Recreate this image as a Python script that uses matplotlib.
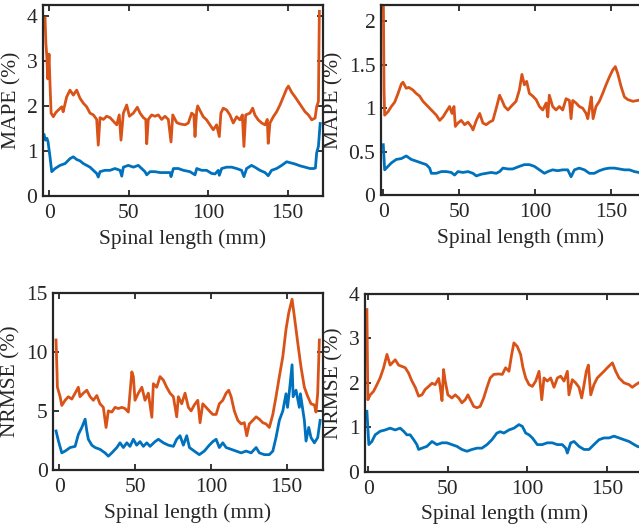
import matplotlib
matplotlib.use('Agg')
import matplotlib.pyplot as plt

matplotlib.rcParams['font.family'] = ['Liberation Serif', 'DejaVu Serif']
matplotlib.rcParams['font.size'] = 15.5

BLUE = '#0072BD'
ORANGE = '#D95319'
INK = '#262626'

# top left: MAPE
tl_x_orange = [-2.7, -2.2, -1.6, -1.0, -0.2, 0.4, 1.1, 2.5, 4.0, 5.7, 7.8, 8.7, 10.9, 13.0, 15.1, 17.2, 19.3,
               21.4, 23.5, 25.6, 27.7, 29.8, 30.8, 31.9, 34.0, 36.1, 38.2, 40.3, 42.4, 44.0, 45.1, 46.6, 48.7,
               50.4, 52.9, 55.4, 57.1, 59.2, 60.7, 61.3, 62.3, 64.4, 66.5, 68.6, 70.7, 72.8, 74.9, 76.6, 77.7,
               80.2, 82.3, 85.4, 87.5, 89.6, 91.0, 91.7, 92.8, 93.4, 94.8, 96.9, 99.0, 101.1, 103.2, 105.3,
               107.0, 108.0, 109.5, 111.6, 113.7, 115.8, 117.9, 120.0, 121.5, 122.5, 123.6, 126.3, 128.0, 129.4,
               131.5, 133.7, 135.8, 137.2, 137.8, 138.9, 141.0, 143.1, 145.2, 147.3, 149.4, 150.5, 152.6, 154.7,
               156.8, 158.9, 161.0, 163.1, 165.2, 167.3, 168.3, 169.4, 170.0]
tl_orange = [3.95, 3.4, 3.1, 2.6, 3.15, 2.5, 1.84, 1.76, 1.85, 1.91, 1.98, 1.87, 2.2, 2.35, 2.24, 2.35, 2.17,
             2.06, 1.98, 1.84, 1.8, 1.7, 1.13, 1.74, 1.7, 1.77, 1.74, 1.66, 1.58, 1.8, 1.24, 1.84, 2.02,
             1.77, 1.84, 1.97, 1.84, 1.74, 1.7, 1.16, 1.7, 1.8, 1.77, 1.8, 1.7, 1.77, 1.7, 1.2, 1.8,
             1.63, 1.6, 1.58, 1.62, 1.84, 1.8, 1.32, 1.9, 2.0, 1.9, 1.76, 1.69, 1.58, 1.47, 1.58,
             1.32, 1.84, 1.95, 1.91, 1.8, 1.62, 1.76, 1.69, 1.8, 1.1, 1.8, 1.84, 1.95, 1.8,
             1.69, 1.62, 1.58, 1.7, 1.17, 1.62, 1.76, 1.87, 2.02, 2.2, 2.38, 2.44, 2.3, 2.2,
             2.09, 1.98, 1.87, 1.8, 1.69, 1.73, 1.98, 2.1, 4.1]
tl_x_blue = [-3.3, -2.5, -1.5, -0.8, 0.4, 1.5, 3.6, 6.7, 9.9, 13.0, 15.1, 17.2, 19.3, 21.4, 23.5, 25.6, 27.7,
             29.8, 30.8, 31.9, 35.0, 38.2, 41.3, 44.5, 45.6, 46.6, 49.7, 52.9, 56.0, 58.1, 60.2, 61.3, 63.4,
             66.5, 69.7, 72.8, 76.0, 76.6, 78.1, 81.2, 84.4, 88.5, 91.7, 92.8, 95.9, 99.0, 102.2, 104.3,
             106.4, 107.0, 108.5, 111.6, 114.8, 117.9, 121.0, 122.5, 124.2, 127.3, 129.4, 132.6, 135.8, 137.8,
             139.9, 143.1, 146.3, 149.4, 151.5, 154.7, 157.8, 161.0, 164.1, 166.2, 167.5, 168.3, 169.4, 170.5]
tl_blue = [1.36, 1.24, 1.28, 1.2, 0.87, 0.54, 0.61, 0.68, 0.72, 0.83, 0.87, 0.81, 0.78, 0.72, 0.68, 0.64, 0.57,
           0.5, 0.42, 0.54, 0.57, 0.57, 0.61, 0.57, 0.44, 0.64, 0.68, 0.64, 0.68, 0.61, 0.54, 0.47, 0.54,
           0.54, 0.52, 0.52, 0.52, 0.43, 0.61, 0.61, 0.57, 0.54, 0.47, 0.61, 0.57, 0.57, 0.5, 0.49,
           0.57, 0.46, 0.61, 0.64, 0.64, 0.61, 0.57, 0.43, 0.61, 0.68, 0.64, 0.57, 0.52, 0.45,
           0.57, 0.61, 0.68, 0.76, 0.74, 0.71, 0.67, 0.64, 0.61, 0.61, 0.62, 0.96, 1.1, 1.61]

# top right: MAPE
tr_x_orange = [0.0, 0.5, 0.9, 3.1, 5.3, 7.5, 9.7, 11.9, 13.0, 15.1, 16.8, 19.5, 21.7, 23.9, 26.1, 28.3, 30.5,
               32.7, 34.9, 37.1, 39.3, 41.4, 43.6, 45.2, 46.5, 47.4, 49.1, 51.3, 53.5, 55.7, 57.9, 59.0, 61.2,
               63.4, 65.5, 67.7, 69.9, 72.1, 74.3, 76.5, 78.1, 79.8, 82.0, 84.0, 87.3, 89.5, 91.2, 92.8, 94.3,
               96.1, 98.3, 100.5, 102.7, 104.9, 107.1, 108.2, 109.2, 111.4, 113.6, 115.8, 118.0, 120.2, 122.4,
               123.5, 124.6, 126.8, 128.9, 131.2, 133.4, 134.5, 135.8, 136.8, 138.0, 139.9, 142.1, 144.3, 146.5,
               148.7, 150.9, 152.6, 154.2, 156.4, 158.6, 160.8, 164.1, 167.4, 170.0]
tr_orange = [2.4, 1.2, 0.92, 0.96, 1.02, 1.07, 1.17, 1.28, 1.3, 1.23, 1.24, 1.21, 1.17, 1.14, 1.08, 1.04, 1.0,
             0.96, 0.92, 0.86, 0.9, 0.96, 1.02, 0.94, 1.02, 0.79, 0.83, 0.86, 0.81, 0.84, 0.79, 0.75, 0.86,
             0.94, 0.83, 0.81, 0.84, 0.86, 1.0, 1.15, 1.09, 1.02, 0.98, 1.02, 1.08, 1.21, 1.39, 1.27, 1.31,
             1.17, 1.14, 1.1, 1.02, 0.98, 1.06, 0.9, 1.15, 1.02, 0.98, 1.02, 0.98, 1.11, 1.09,
             0.88, 1.09, 1.06, 1.02, 1.0, 0.94, 0.88, 1.02, 1.13, 0.88, 1.02, 1.08, 1.17, 1.27,
             1.36, 1.44, 1.48, 1.4, 1.25, 1.13, 1.1, 1.08, 1.09, 1.1]
tr_x_blue = [0.0, 0.9, 3.1, 5.3, 8.6, 11.9, 15.1, 18.4, 21.7, 25.0, 28.3, 30.5, 31.6, 34.9, 38.2, 41.4, 44.7,
             46.9, 49.1, 52.4, 55.7, 59.0, 61.2, 64.5, 67.7, 71.0, 74.3, 76.5, 78.7, 82.0, 85.1, 89.5, 92.8,
             96.1, 99.4, 102.7, 106.0, 108.2, 111.4, 114.7, 118.0, 121.3, 123.5, 125.7, 128.9, 132.3, 135.6,
             138.8, 142.1, 145.4, 148.7, 152.0, 155.3, 158.6, 161.9, 165.2, 168.0, 170.0]
tr_blue = [0.58, 0.29, 0.33, 0.37, 0.41, 0.42, 0.45, 0.41, 0.39, 0.37, 0.35, 0.31, 0.25, 0.25, 0.27, 0.27, 0.26,
           0.23, 0.27, 0.26, 0.27, 0.25, 0.22, 0.24, 0.25, 0.26, 0.25, 0.27, 0.31, 0.3, 0.3, 0.33, 0.35,
           0.35, 0.33, 0.29, 0.25, 0.27, 0.29, 0.28, 0.29, 0.29, 0.21, 0.29, 0.31, 0.29, 0.25,
           0.25, 0.28, 0.3, 0.31, 0.31, 0.3, 0.29, 0.29, 0.27, 0.26, 0.26]

# bottom left: NRMSE
bl_x_orange = [-2.2, -1.6, -1.3, 0.5, 1.6, 3.8, 5.9, 8.2, 10.4, 12.5, 13.6, 15.8, 18.1, 20.3, 22.4, 24.7, 26.8,
               29.0, 30.8, 32.3, 34.6, 36.7, 38.9, 41.2, 43.3, 45.5, 47.8, 48.8, 49.9, 52.1, 54.4, 56.5, 58.7,
               61.0, 62.0, 64.2, 66.4, 68.6, 70.8, 73.0, 75.2, 77.4, 78.5, 80.7, 82.9, 85.1, 86.9, 89.0, 91.3,
               92.8, 94.6, 96.8, 98.9, 101.2, 103.4, 105.5, 107.8, 110.0, 111.7, 113.3, 115.4, 117.7, 119.9,
               122.0, 123.6, 125.3, 127.6, 129.8, 131.9, 134.2, 136.3, 138.5, 140.8, 142.9, 145.1, 147.4, 149.5,
               151.3, 153.5, 155.0, 157.3, 159.4, 161.6, 163.9, 166.0, 168.2, 169.3, 170.4, 171.5]
bl_orange = [11.0, 8.5, 7.0, 6.2, 5.46, 5.9, 6.2, 6.0, 6.5, 7.0, 6.2, 6.5, 6.75, 6.2, 5.9, 6.3, 5.6,
             5.3, 3.6, 5.0, 4.9, 5.3, 5.2, 5.3, 5.2, 4.9, 8.3, 7.9, 5.9, 6.5, 7.0, 5.9, 6.5,
             4.46, 7.3, 7.0, 7.9, 7.6, 7.0, 6.5, 6.2, 4.5, 6.2, 5.6, 6.5, 5.3, 5.0, 5.5, 5.9,
             4.0, 5.6, 5.3, 5.0, 4.7, 4.7, 5.6, 5.9, 6.5, 6.75, 6.2, 5.0, 4.2, 3.9,
             4.0, 2.9, 3.9, 4.2, 4.5, 4.3, 4.0, 3.9, 3.6, 4.7, 6.2, 7.9, 9.6, 11.9,
             13.3, 14.45, 13.0, 10.7, 8.7, 7.0, 6.2, 5.6, 5.5, 4.9, 6.5, 11.0]
bl_x_blue = [-2.2, -0.6, 1.6, 3.8, 7.1, 10.4, 12.5, 14.8, 17.0, 18.1, 19.1, 21.4, 23.6, 26.8, 30.1, 32.3, 34.6,
             37.9, 40.0, 42.2, 44.5, 46.6, 48.8, 51.0, 53.2, 55.4, 57.7, 59.8, 63.1, 65.3, 68.6, 71.9, 75.2,
             77.4, 79.6, 81.8, 84.0, 85.8, 89.0, 92.3, 95.6, 98.9, 101.2, 103.4, 105.5, 107.8, 110.0, 113.3,
             116.6, 119.9, 123.2, 126.5, 129.8, 131.9, 135.2, 138.5, 140.8, 142.9, 145.1, 147.4, 149.5, 150.5,
             151.8, 153.5, 154.2, 156.1, 158.3, 159.0, 161.6, 162.7, 164.5, 166.0, 168.2, 170.4, 172.0]
bl_blue = [3.3, 2.45, 1.45, 1.6, 1.9, 2.0, 3.0, 3.6, 4.3, 3.3, 2.6, 2.1, 1.9, 1.75, 1.45, 1.17, 1.45,
           1.9, 2.3, 1.9, 2.3, 2.0, 2.6, 2.1, 2.4, 2.0, 2.3, 2.0, 2.4, 2.6, 2.3, 2.1, 2.0,
           2.6, 2.9, 2.1, 2.9, 1.9, 1.6, 1.3, 1.6, 2.1, 2.4, 2.6, 1.9, 2.3, 1.9, 1.75,
           1.6, 1.45, 1.6, 1.45, 1.9, 1.45, 1.3, 1.3, 1.6, 2.74, 4.2, 5.0, 6.45, 5.3,
           6.75, 8.9, 6.2, 6.75, 5.3, 6.45, 4.2, 2.45, 3.6, 2.74, 2.3, 2.74, 4.2]

# bottom right: NRMSE
br_x_orange = [-0.8, -0.2, 1.3, 3.4, 5.5, 7.5, 9.7, 11.8, 13.8, 17.0, 19.1, 21.2, 23.3, 25.4, 27.5, 29.6, 31.7,
               33.8, 35.8, 38.0, 40.1, 42.1, 44.3, 45.3, 46.4, 47.4, 48.4, 50.1, 52.6, 54.7, 56.9, 58.9, 61.0,
               62.7, 64.2, 66.3, 68.4, 70.4, 72.6, 74.7, 76.7, 78.9, 82.0, 84.3, 86.4, 88.5, 90.2, 91.6, 93.7,
               95.8, 97.3, 99.0, 101.1, 103.2, 105.3, 107.4, 109.1, 110.5, 112.6, 114.7, 116.8, 118.9, 121.0,
               123.1, 125.2, 126.2, 128.3, 130.4, 132.5, 134.2, 135.7, 137.1, 138.4, 139.9, 141.9, 144.0, 146.2,
               148.2, 150.3, 153.5, 155.6, 157.7, 160.8, 164.0, 166.0, 168.2, 170.0]
br_orange = [3.65, 1.62, 1.73, 1.81, 1.96, 2.11, 2.34, 2.64, 2.4, 2.52, 2.4, 2.37, 2.34, 2.22, 2.04, 1.9, 1.7,
             1.73, 1.85, 1.92, 1.99, 1.96, 2.1, 1.9, 1.6, 2.3, 2.04, 1.73, 1.66, 1.73, 1.66, 1.55, 1.62,
             1.73, 1.62, 1.47, 1.44, 1.47, 1.66, 1.9, 2.11, 2.19, 2.2, 2.19, 2.34, 2.26, 2.64, 2.9, 2.82,
             2.64, 2.34, 2.11, 1.96, 1.92, 2.04, 2.26, 1.62, 2.11, 2.04, 2.11, 1.9, 2.11, 2.15,
             2.04, 2.26, 1.73, 2.07, 2.0, 1.9, 1.66, 1.96, 2.26, 2.4, 1.73, 1.96, 2.11, 2.19,
             2.26, 2.34, 2.45, 2.26, 2.11, 2.0, 1.96, 1.9, 1.96, 2.0]
br_x_blue = [-0.8, 0.4, 2.3, 4.4, 7.5, 10.7, 13.8, 17.0, 20.1, 22.3, 24.3, 26.4, 28.6, 30.6, 31.7, 33.8, 36.9,
             40.1, 43.2, 46.4, 49.5, 52.6, 55.8, 58.9, 62.1, 65.2, 68.4, 71.5, 74.7, 77.8, 80.9, 83.0, 85.3,
             88.5, 91.6, 94.8, 96.9, 99.0, 101.1, 103.2, 106.3, 109.4, 112.6, 115.7, 118.9, 122.0, 124.2,
             125.2, 127.3, 129.4, 132.5, 135.7, 138.8, 141.9, 145.1, 148.2, 151.4, 154.5, 157.7, 160.8, 164.0,
             167.2, 169.2, 171.0]
br_blue = [1.36, 0.61, 0.68, 0.83, 0.91, 0.94, 0.98, 0.94, 0.98, 0.91, 0.83, 0.83, 0.72, 0.61, 0.5, 0.53, 0.57,
           0.68, 0.61, 0.65, 0.65, 0.61, 0.57, 0.5, 0.46, 0.5, 0.53, 0.53, 0.61, 0.72, 0.87, 0.9, 0.87,
           0.94, 0.98, 1.06, 1.02, 0.87, 0.83, 0.76, 0.61, 0.61, 0.65, 0.65, 0.61, 0.61, 0.53,
           0.42, 0.65, 0.68, 0.57, 0.5, 0.5, 0.61, 0.72, 0.76, 0.76, 0.8, 0.76, 0.72, 0.68,
           0.61, 0.57, 0.55]

x_ticks = [0, 50, 100, 150]


def style(ax, ylabel, yticks, xlim, ylim):
    ax.set_xlim(xlim)
    ax.set_ylim(ylim)
    ax.set_xticks(x_ticks)
    ax.set_yticks(yticks)
    ax.set_yticklabels(['%g' % t for t in yticks])
    ax.set_xlabel('Spinal length (mm)', color=INK, labelpad=4)
    ax.set_ylabel(ylabel, color=INK, labelpad=4)
    ax.tick_params(direction='in', top=True, right=True, length=4, width=1.3,
                   colors=INK, labelcolor=INK)
    ax.tick_params(axis='x', pad=6)
    ax.tick_params(axis='y', pad=4)
    for s in ax.spines.values():
        s.set_linewidth(1.6)
        s.set_color(INK)


fig = plt.figure(figsize=(6.39, 5.28), dpi=100)

ax1 = fig.add_axes([43/639, 332/528, 279.7/639, 191/528])
ax1.plot(tl_x_orange, tl_orange, color=ORANGE, lw=2.0)
ax1.plot(tl_x_blue, tl_blue, color=BLUE, lw=2.0)
style(ax1, 'MAPE (%)', [0, 1, 2, 3, 4], (-4.0, 172.1), (0, 4.24))

ax2 = fig.add_axes([381/639, 333/528, 279/639, 190/528])
ax2.plot(tr_x_orange, tr_orange, color=ORANGE, lw=2.0)
ax2.plot(tr_x_blue, tr_blue, color=BLUE, lw=2.0)
style(ax2, 'MAPE (%)', [0, 0.5, 1, 1.5, 2], (-1.5, 182), (0, 2.19))

ax3 = fig.add_axes([53.3/639, 58/528, 269.4/639, 177.3/528])
ax3.plot(bl_x_orange, bl_orange, color=ORANGE, lw=2.0)
ax3.plot(bl_x_blue, bl_blue, color=BLUE, lw=2.0)
style(ax3, 'NRMSE (%)', [0, 5, 10, 15], (-4.0, 173.7), (0, 15))

ax4 = fig.add_axes([365/639, 56.3/528, 280/639, 177.7/528])
ax4.plot(br_x_orange, br_orange, color=ORANGE, lw=2.0)
ax4.plot(br_x_blue, br_blue, color=BLUE, lw=2.0)
style(ax4, 'NRMSE (%)', [0, 1, 2, 3, 4], (-2.0, 174), (0, 4))

fig.savefig('out.png', dpi=100)
